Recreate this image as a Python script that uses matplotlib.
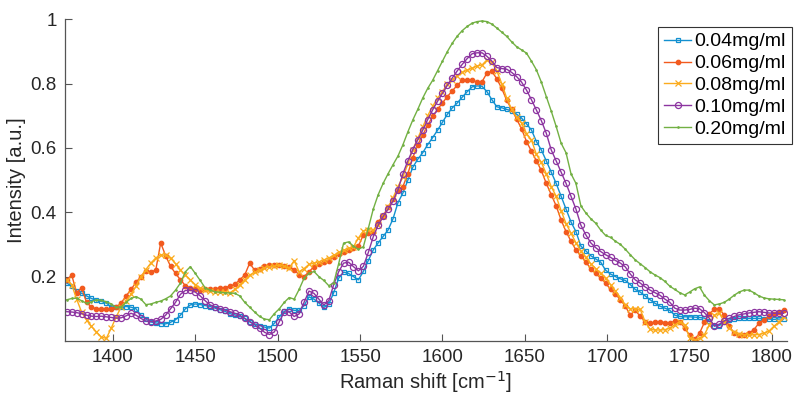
import numpy as np
import matplotlib
matplotlib.use("Agg")
import matplotlib.pyplot as plt

plt.rcParams['font.family'] = ['Liberation Sans', 'DejaVu Sans']

# Raman shift grid (cm^-1)
shift = np.arange(1372, 1808, 3)

c004 = [.18, .17, .155, .148, .14, .132, .126, .123, .118, .106,
        .105, .107, .107, .105, .1, .08, .068, .059, .056, .054,
        .053, .058, .066, .08, .1, .112, .115, .113, .11, .107,
        .102, .097, .092, .085, .081, .076, .07, .06, .053, .048,
        .043, .04, .055, .075, .092, .1, .095, .095, .11, .137,
        .13, .118, .104, .115, .15, .195, .214, .21, .2, .19,
        .216, .25, .283, .305, .325, .345, .38, .43, .46, .5,
        .54, .565, .585, .61, .632, .655, .68, .705, .725, .74,
        .758, .775, .79, .793, .792, .775, .75, .728, .725, .72,
        .715, .705, .693, .675, .656, .62, .594, .56, .525, .49,
        .45, .41, .37, .34, .295, .28, .265, .255, .245, .22,
        .208, .2, .193, .188, .175, .16, .152, .14, .128, .117,
        .108, .102, .095, .08, .076, .075, .075, .074, .073, .071,
        .062, .047, .048, .058, .065, .069, .07, .07, .07, .07,
        .07, .069, .068, .067, .068, .068]

c006 = [.19, .205, .15, .165, .12, .105, .1, .1, .1, .1,
        .105, .118, .14, .16, .182, .2, .218, .215, .22, .305,
        .265, .232, .21, .19, .172, .165, .16, .158, .16, .162,
        .163, .164, .166, .17, .176, .19, .205, .242, .22, .225,
        .233, .235, .236, .236, .234, .23, .222, .205, .2, .215,
        .231, .238, .245, .25, .262, .27, .276, .282, .288, .295,
        .33, .335, .34, .37, .39, .415, .44, .47, .48, .52,
        .57, .61, .64, .67, .698, .72, .74, .76, .778, .795,
        .81, .812, .81, .805, .806, .833, .838, .815, .785, .748,
        .72, .69, .66, .62, .59, .56, .53, .49, .455, .42,
        .376, .34, .31, .283, .265, .245, .225, .21, .195, .18,
        .16, .145, .128, .108, .08, .096, .076, .06, .055, .058,
        .06, .057, .055, .062, .06, .04, .018, .005, .024, .058,
        .085, .098, .1, .08, .045, .025, .019, .02, .024, .035,
        .055, .065, .076, .084, .09, .096]

c008 = [.19, .175, .13, .09, .065, .045, .028, .012, .008, .04,
        .075, .105, .125, .145, .17, .2, .222, .242, .258, .268,
        .266, .258, .24, .221, .205, .19, .175, .164, .158, .154,
        .153, .153, .153, .15, .16, .174, .19, .205, .213, .22,
        .228, .231, .232, .236, .232, .226, .25, .215, .225, .238,
        .242, .246, .252, .258, .266, .275, .282, .288, .293, .32,
        .342, .345, .345, .36, .387, .415, .445, .48, .51, .55,
        .595, .63, .665, .7, .729, .755, .775, .8, .812, .825,
        .835, .842, .848, .855, .858, .874, .866, .84, .8, .755,
        .72, .695, .677, .645, .625, .58, .555, .52, .48, .45,
        .405, .365, .335, .305, .28, .26, .24, .225, .21, .195,
        .175, .155, .135, .112, .1, .1, .098, .06, .036, .034,
        .034, .035, .04, .05, .06, .05, .01, .003, .008, .02,
        .05, .08, .086, .06, .04, .028, .021, .019, .019, .019,
        .02, .024, .03, .045, .058, .075]

c010 = [.091, .09, .088, .085, .08, .077, .076, .077, .075, .073,
        .071, .072, .078, .086, .08, .07, .062, .06, .062, .067,
        .08, .1, .12, .145, .157, .158, .152, .14, .125, .112,
        .105, .1, .096, .091, .086, .08, .07, .06, .05, .04,
        .027, .02, .028, .06, .09, .09, .076, .084, .12, .155,
        .148, .13, .112, .125, .175, .215, .242, .245, .231, .218,
        .232, .275, .324, .36, .387, .41, .435, .47, .52, .56,
        .595, .625, .655, .688, .718, .745, .77, .795, .818, .84,
        .86, .878, .893, .896, .896, .885, .87, .85, .847, .845,
        .835, .822, .805, .78, .75, .718, .685, .646, .594, .56,
        .525, .49, .45, .41, .36, .33, .305, .29, .278, .268,
        .26, .25, .242, .23, .208, .19, .18, .168, .158, .15,
        .142, .13, .12, .102, .096, .096, .098, .102, .1, .088,
        .07, .046, .052, .062, .07, .076, .081, .084, .087, .089,
        .091, .089, .087, .086, .086, .086]

c020 = [.128, .132, .133, .125, .117, .122, .128, .126, .122, .115,
        .104, .106, .12, .132, .138, .13, .113, .115, .12, .124,
        .131, .14, .158, .18, .215, .231, .21, .188, .165, .158,
        .153, .151, .15, .149, .148, .14, .12, .105, .09, .076,
        .068, .066, .085, .1, .12, .135, .13, .16, .195, .21,
        .216, .2, .188, .172, .18, .24, .304, .308, .295, .285,
        .293, .35, .41, .455, .49, .52, .548, .575, .61, .65,
        .687, .72, .755, .785, .81, .84, .87, .9, .926, .948,
        .965, .978, .988, .993, .995, .993, .985, .973, .96, .947,
        .93, .915, .905, .895, .87, .843, .805, .76, .715, .667,
        .615, .585, .52, .49, .42, .398, .38, .366, .345, .328,
        .322, .31, .3, .285, .268, .252, .24, .228, .215, .205,
        .197, .185, .17, .16, .15, .143, .152, .162, .168, .142,
        .125, .112, .115, .12, .13, .142, .152, .158, .158, .15,
        .14, .134, .131, .13, .129, .128]

labels = ['0.04mg/ml', '0.06mg/ml', '0.08mg/ml', '0.10mg/ml', '0.20mg/ml']
series = [c004, c006, c008, c010, c020]
colors = ['#1390d0', '#f25a1e', '#fbab1d', '#8c34a0', '#72b043']
markers = ['s', 'o', 'x', 'o', '.']
msizes = [3.4, 3.2, 3.8, 4.4, 2.0]
hollow = [True, False, False, True, False]

fig = plt.figure(figsize=(7.94, 4.03), dpi=100)
ax = fig.add_axes([0.082, 0.154, 0.909, 0.798])

for y, lab, col, mk, ms, ho in zip(series, labels, colors, markers, msizes, hollow):
    ax.plot(shift, y, color=col, marker=mk, markersize=ms, linewidth=1.0,
            markerfacecolor='none' if ho else col,
            markeredgewidth=0.9, label=lab)

ax.set_xlim(1371, 1809)
ax.set_ylim(0, 1)
ax.set_xticks(np.arange(1400, 1801, 50))
ax.set_yticks([0.2, 0.4, 0.6, 0.8, 1.0])
ax.set_yticklabels(['0.2', '0.4', '0.6', '0.8', '1'])
for s in ['top', 'right']:
    ax.spines[s].set_visible(False)
for s in ['left', 'bottom']:
    ax.spines[s].set_color('#555555')
    ax.spines[s].set_linewidth(0.9)
ax.tick_params(direction='in', length=5, width=0.8, color='#555555',
               labelsize=13.5, labelcolor='#262626', pad=6)
ax.set_xlabel('Raman shift [cm$^{-1}$]', fontsize=14.5, color='#262626',
              labelpad=2)
ax.set_ylabel('Intensity [a.u.]', fontsize=14.5, color='#262626',
              labelpad=3)

leg = fig.legend(loc='upper right', bbox_to_anchor=(0.997, 0.933),
                 fontsize=14, handlelength=1.4, labelspacing=0.22,
                 borderpad=0.3, handletextpad=0.15, fancybox=False,
                 framealpha=1, edgecolor='#333333', borderaxespad=0)
leg.get_frame().set_linewidth(0.8)

fig.savefig('out.png', dpi=100)
